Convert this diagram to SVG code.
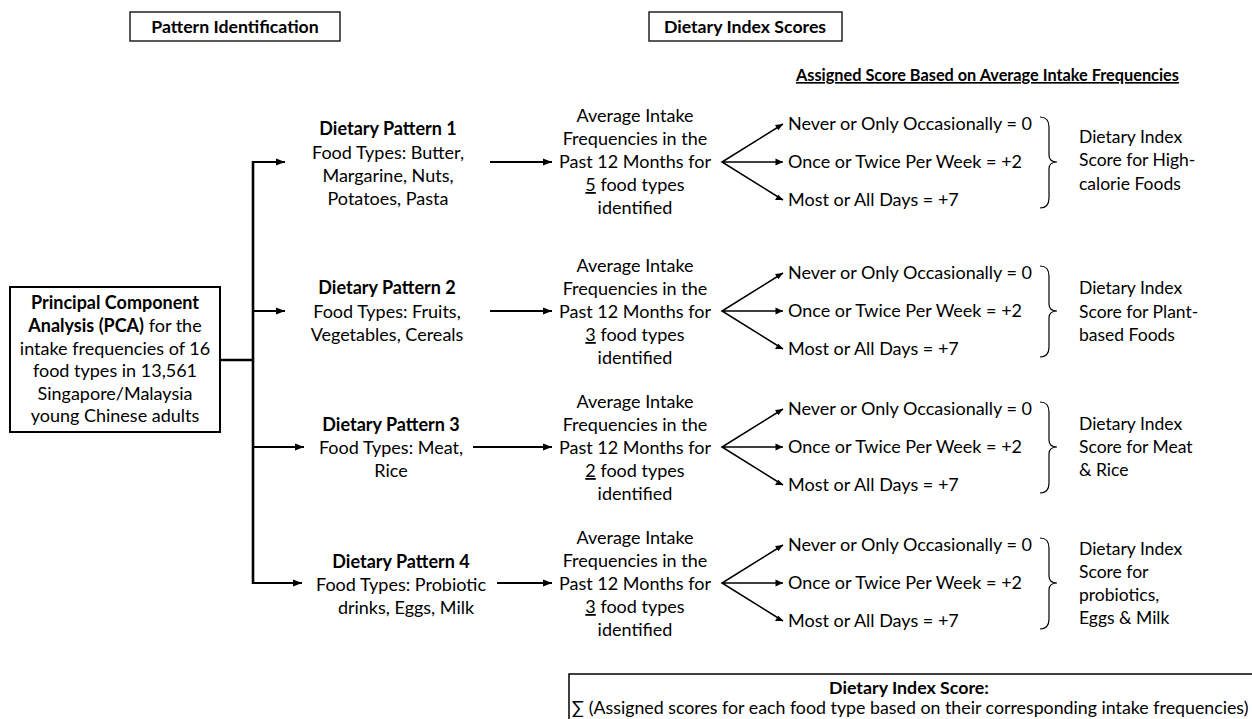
<svg xmlns="http://www.w3.org/2000/svg" width="1252" height="719" viewBox="0 0 1252 719">
<style>
text{font-family:Lato,"Open Sans","Liberation Sans",sans-serif;fill:#000;font-size:18px}
.b{font-weight:bold}
.c{text-anchor:middle}
.ix{font-size:17.5px}
.box{fill:#fff;stroke:#222;stroke-width:1.5}
.thick{fill:none;stroke:#000;stroke-width:2.6}
.arr{fill:none;stroke:#000;stroke-width:2.2}
.fan{fill:none;stroke:#000;stroke-width:1.6}
.brace{fill:none;stroke:#000;stroke-width:1.2}
</style>
<defs>
<marker id="ah" markerUnits="userSpaceOnUse" markerWidth="10" markerHeight="8" refX="9" refY="4" orient="auto"><path d="M0,0.5 L9,4 L0,7.5 z" fill="#000"/></marker>
</defs>

<g id="hdr-pattern"><rect class="box" x="130" y="12" width="210" height="29"/><text class="b c" x="235" y="33" style="font-size:17.7px">Pattern Identification</text></g>
<g id="hdr-scores"><rect class="box" x="649" y="12" width="193" height="29"/><text class="b c" x="745" y="33" style="font-size:17.7px">Dietary Index Scores</text></g>
<g id="hdr-assigned"><text class="b" x="796" y="81" style="font-size:16.3px;text-decoration:underline">Assigned Score Based on Average Intake Frequencies</text></g>

<g id="pca"><rect x="10" y="287" width="210" height="145" fill="#fff" stroke="#000" stroke-width="2"/>
<text class="c" x="115" y="309"><tspan class="b">Principal Component</tspan></text>
<text class="c" x="115" y="332"><tspan class="b">Analysis (PCA)</tspan> for the</text>
<text class="c" x="115" y="355">intake frequencies of 16</text>
<text class="c" x="115" y="377">food types in 13,561</text>
<text class="c" x="115" y="400">Singapore/Malaysia</text>
<text class="c" x="115" y="422">young Chinese adults</text>
</g>

<g id="connectors">
<path class="thick" d="M220,360 H253 M253,161 V584"/>
<line class="arr" x1="252" y1="162" x2="285" y2="162" marker-end="url(#ah)"/>
<line class="arr" x1="252" y1="311" x2="285" y2="311" marker-end="url(#ah)"/>
<line class="arr" x1="252" y1="447" x2="304" y2="447" marker-end="url(#ah)"/>
<line class="arr" x1="252" y1="583" x2="302" y2="583" marker-end="url(#ah)"/>
<line class="arr" x1="490" y1="162" x2="552" y2="162" marker-end="url(#ah)"/>
<line class="arr" x1="490" y1="311" x2="552" y2="311" marker-end="url(#ah)"/>
<line class="arr" x1="473" y1="447" x2="552" y2="447" marker-end="url(#ah)"/>
<line class="arr" x1="497" y1="583" x2="552" y2="583" marker-end="url(#ah)"/>
<g id="fan1"><path class="fan" d="M783,124 L722,162 L783,200 M722,162 H783"/></g>
<g id="fan2"><path class="fan" d="M783,273 L722,311 L783,349 M722,311 H783"/></g>
<g id="fan3"><path class="fan" d="M783,409 L722,447 L783,485 M722,447 H783"/></g>
<g id="fan4"><path class="fan" d="M783,545 L722,583 L783,621 M722,583 H783"/></g>
<g id="arrowheads">
<path d="M783,124 l-8,1 l3.4,5.2 z M783,162 l-7.5,-3.5 v7 z M783,200 l-4.6,-5.3 l-3.4,5.2 z"/>
<path d="M783,273 l-8,1 l3.4,5.2 z M783,311 l-7.5,-3.5 v7 z M783,349 l-4.6,-5.3 l-3.4,5.2 z"/>
<path d="M783,409 l-8,1 l3.4,5.2 z M783,447 l-7.5,-3.5 v7 z M783,485 l-4.6,-5.3 l-3.4,5.2 z"/>
<path d="M783,545 l-8,1 l3.4,5.2 z M783,583 l-7.5,-3.5 v7 z M783,621 l-4.6,-5.3 l-3.4,5.2 z"/>
</g>
</g>

<g id="pattern1">
<text class="b c" x="388" y="135">Dietary Pattern 1</text>
<text class="c" x="388" y="159">Food Types: Butter,</text>
<text class="c" x="388" y="182">Margarine, Nuts,</text>
<text class="c" x="388" y="205">Potatoes, Pasta</text>
</g>
<g id="pattern2">
<text class="b c" x="387" y="294">Dietary Pattern 2</text>
<text class="c" x="387" y="318">Food Types: Fruits,</text>
<text class="c" x="387" y="341">Vegetables, Cereals</text>
</g>
<g id="pattern3">
<text class="b c" x="391" y="431">Dietary Pattern 3</text>
<text class="c" x="391" y="454">Food Types: Meat,</text>
<text class="c" x="391" y="477">Rice</text>
</g>
<g id="pattern4">
<text class="b c" x="401" y="568">Dietary Pattern 4</text>
<text class="c" x="401" y="591">Food Types: Probiotic</text>
<text class="c" x="406" y="614">drinks, Eggs, Milk</text>
</g>

<g id="avg1">
<text class="c" x="635" y="122">Average Intake</text>
<text class="c" x="635" y="145">Frequencies in the</text>
<text class="c" x="635" y="168">Past 12 Months for</text>
<text class="c" x="635" y="191"><tspan text-decoration="underline">5</tspan> food types</text>
<text class="c" x="635" y="214">identified</text>
</g>
<g id="avg2">
<text class="c" x="635" y="272">Average Intake</text>
<text class="c" x="635" y="295">Frequencies in the</text>
<text class="c" x="635" y="318">Past 12 Months for</text>
<text class="c" x="635" y="341"><tspan text-decoration="underline">3</tspan> food types</text>
<text class="c" x="635" y="364">identified</text>
</g>
<g id="avg3">
<text class="c" x="635" y="408">Average Intake</text>
<text class="c" x="635" y="431">Frequencies in the</text>
<text class="c" x="635" y="454">Past 12 Months for</text>
<text class="c" x="635" y="477"><tspan text-decoration="underline">2</tspan> food types</text>
<text class="c" x="635" y="500">identified</text>
</g>
<g id="avg4">
<text class="c" x="635" y="544">Average Intake</text>
<text class="c" x="635" y="567">Frequencies in the</text>
<text class="c" x="635" y="590">Past 12 Months for</text>
<text class="c" x="635" y="613"><tspan text-decoration="underline">3</tspan> food types</text>
<text class="c" x="635" y="636">identified</text>
</g>

<g id="scores1">
<text x="788" y="130">Never or Only Occasionally = 0</text>
<text x="788" y="168">Once or Twice Per Week = +2</text>
<text x="788" y="206">Most or All Days = +7</text>
</g>
<g id="scores2">
<text x="788" y="279">Never or Only Occasionally = 0</text>
<text x="788" y="317">Once or Twice Per Week = +2</text>
<text x="788" y="355">Most or All Days = +7</text>
</g>
<g id="scores3">
<text x="788" y="415">Never or Only Occasionally = 0</text>
<text x="788" y="453">Once or Twice Per Week = +2</text>
<text x="788" y="491">Most or All Days = +7</text>
</g>
<g id="scores4">
<text x="788" y="551">Never or Only Occasionally = 0</text>
<text x="788" y="589">Once or Twice Per Week = +2</text>
<text x="788" y="627">Most or All Days = +7</text>
</g>

<g id="brace1"><path class="brace" d="M1040,117 Q1049,117 1049,127 V155 Q1049,162 1057,162 Q1049,162 1049,169 V198 Q1049,208 1040,208"/></g>
<g id="brace2"><path class="brace" d="M1040,266 Q1049,266 1049,276 V304 Q1049,311 1057,311 Q1049,311 1049,318 V347 Q1049,357 1040,357"/></g>
<g id="brace3"><path class="brace" d="M1040,402 Q1049,402 1049,412 V440 Q1049,447 1057,447 Q1049,447 1049,454 V483 Q1049,493 1040,493"/></g>
<g id="brace4"><path class="brace" d="M1040,538 Q1049,538 1049,548 V576 Q1049,583 1057,583 Q1049,583 1049,590 V619 Q1049,629 1040,629"/></g>

<g id="index1">
<text class="ix" x="1079" y="143">Dietary Index</text>
<text class="ix" x="1079" y="166">Score for High-</text>
<text class="ix" x="1079" y="190">calorie Foods</text>
</g>
<g id="index2">
<text class="ix" x="1079" y="294">Dietary Index</text>
<text class="ix" x="1079" y="318">Score for Plant-</text>
<text class="ix" x="1079" y="341">based Foods</text>
</g>
<g id="index3">
<text class="ix" x="1079" y="430">Dietary Index</text>
<text class="ix" x="1079" y="453">Score for Meat</text>
<text class="ix" x="1079" y="476">&amp; Rice</text>
</g>
<g id="index4">
<text class="ix" x="1079" y="555">Dietary Index</text>
<text class="ix" x="1079" y="578">Score for</text>
<text class="ix" x="1079" y="601">probiotics,</text>
<text class="ix" x="1079" y="624">Eggs &amp; Milk</text>
</g>

<g id="summary"><rect x="569" y="674" width="700" height="60" fill="#fff" stroke="#000" stroke-width="1.5"/>
<text class="b c" x="909" y="694" style="font-size:17.8px">Dietary Index Score:</text>
<text x="572" y="714" style="font-size:17.8px">∑ (Assigned scores for each food type based on their corresponding intake frequencies)</text>
</g>
</svg>
